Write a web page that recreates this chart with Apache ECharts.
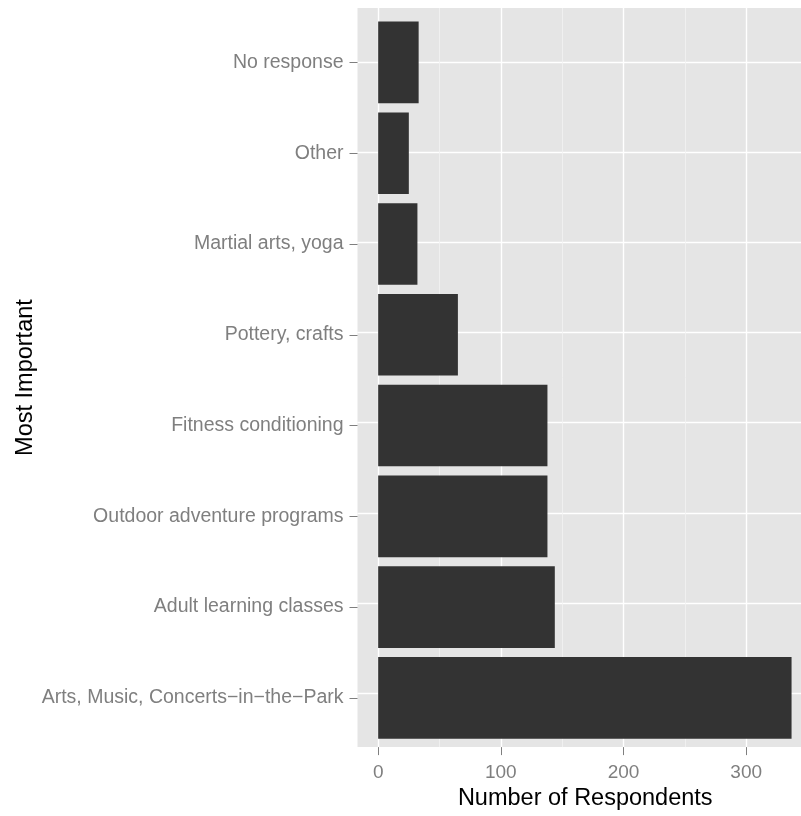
<!DOCTYPE html>
<html>
<head>
<meta charset="utf-8">
<script src="https://cdn.jsdelivr.net/npm/echarts@6/dist/echarts.min.js"></script>
<style>
html,body{margin:0;padding:0;background:#fff;}
#chart{width:801px;height:816px;}
</style>
</head>
<body>
<div id="chart"></div>
<script>
// Data (bottom to top)
const categories = [
  'Arts, Music, Concerts\u2212in\u2212the\u2212Park',
  'Adult learning classes',
  'Outdoor adventure programs',
  'Fitness conditioning',
  'Pottery, crafts',
  'Martial arts, yoga',
  'Other',
  'No response'
];
const respondents = [337, 144, 138, 138, 65, 32, 25, 33];
const xTicks = [0, 100, 200, 300];
const xMinorTicks = [50, 150, 250];
const catPositions = [1, 2, 3, 4, 5, 6, 7, 8];

const X_MIN = -16.85, X_MAX = 344.7;
const FONT = 'Liberation Sans, Arial, sans-serif';
const GREY = '#7F7F7F';

const chart = echarts.init(document.getElementById('chart'), null, {renderer: 'canvas'});
chart.setOption({
  animation: false,
  backgroundColor: '#ffffff',
  grid: [
    {left: 357.5, right: 0, top: 8, bottom: 63.7, show: true, backgroundColor: '#E5E5E5', borderWidth: 0, containLabel: false},
    {left: 357.5, right: 0, top: 17.08, bottom: 72.8, show: false, containLabel: false}
  ],
  xAxis: [
    {
      type: 'value', gridIndex: 0, min: X_MIN, max: X_MAX, position: 'bottom',
      name: 'Number of Respondents', nameLocation: 'middle', nameGap: 34,
      nameTextStyle: {color: '#000', fontSize: 23.5, fontFamily: FONT, padding: [0, 0, 0, 12]},
      axisLine: {show: false, onZero: false},
      axisTick: {show: true, length: 8, customValues: xTicks, lineStyle: {color: GREY, width: 1}},
      axisLabel: {show: true, customValues: xTicks, margin: 16, color: GREY, fontSize: 19, fontFamily: FONT},
      splitLine: {show: true, lineStyle: {color: '#FFFFFF', width: 1.4}}
    },
    {
      type: 'value', gridIndex: 0, min: X_MIN, max: X_MAX, position: 'top',
      axisLine: {show: false, onZero: false},
      axisTick: {show: false, customValues: xMinorTicks},
      axisLabel: {show: false},
      splitLine: {show: true, lineStyle: {color: '#F2F2F2', width: 0.8}}
    },
    {
      type: 'value', gridIndex: 1, min: X_MIN, max: X_MAX, show: false,
      axisLine: {onZero: false},
      splitLine: {show: false}
    }
  ],
  yAxis: [
    {
      type: 'value', gridIndex: 0, min: 0.4, max: 8.6,
      name: 'Most Important', nameLocation: 'middle', nameGap: 320, nameRotate: 90,
      nameTextStyle: {color: '#000', fontSize: 23.5, fontFamily: FONT},
      axisLine: {show: false, onZero: false},
      axisTick: {show: false, customValues: catPositions},
      axisLabel: {show: false},
      splitLine: {show: true, lineStyle: {color: '#FFFFFF', width: 1.4}}
    },
    {
      type: 'category', gridIndex: 1, data: categories, position: 'left',
      axisLine: {show: false, onZero: false},
      axisTick: {show: true, alignWithLabel: true, length: 8, lineStyle: {color: GREY, width: 1}},
      axisLabel: {show: true, margin: 14, color: GREY, fontSize: 19.5, fontFamily: FONT},
      splitLine: {show: false}
    }
  ],
  series: [
    {
      type: 'bar', xAxisIndex: 2, yAxisIndex: 1,
      data: respondents,
      barCategoryGap: '10%',
      itemStyle: {color: '#333333'},
      silent: true
    }
  ]
});
</script>
</body>
</html>
